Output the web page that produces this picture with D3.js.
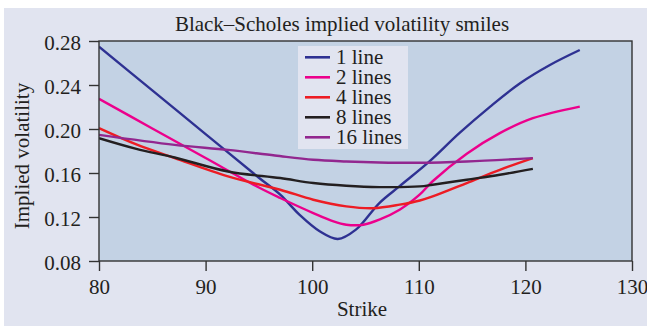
<!DOCTYPE html>
<html>
<head>
<meta charset="utf-8">
<script src="https://cdn.jsdelivr.net/npm/d3@7"></script>
<style>
  body { margin: 0; background: #fff; }
  svg text { font-family: "Liberation Serif", "DejaVu Serif", serif; fill: #231f20; }
</style>
</head>
<body>
<svg id="chart" width="647" height="326"></svg>
<script>
// series data
var seriesNames = ["1 line", "2 lines", "4 lines", "8 lines", "16 lines"];
var seriesColors = ["#2e3192", "#ec008c", "#ed1c24", "#231f20", "#92278f"];

var strike1 = [80, 85, 90, 95, 97, 98.8, 100.7, 102.4, 104.1, 106.3, 108.2, 111, 113.8, 116.7, 119.5, 122.3, 125.1];
var vol1 = [0.2748, 0.2351, 0.1954, 0.1557, 0.1403, 0.1221, 0.107, 0.100, 0.1085, 0.1327, 0.148, 0.1705, 0.1962, 0.2204, 0.2416, 0.2582, 0.2718];

var strike2 = [80, 85, 90, 95, 97, 100.1, 102, 103.2, 104.8, 106.3, 108.2, 110.1, 111.3, 114.5, 117.6, 120.7, 125.1];
var vol2 = [0.2274, 0.2005, 0.1736, 0.1468, 0.1373, 0.1236, 0.116, 0.113, 0.113, 0.1176, 0.1266, 0.1405, 0.1525, 0.1775, 0.1962, 0.2098, 0.2204];

var strike4 = [80, 83.5, 87.1, 92.1, 97, 100.1, 103.2, 105.7, 108.2, 110.1, 111.3, 114.5, 117.6, 120.7];
var vol4 = [0.2008, 0.186, 0.1736, 0.1569, 0.1448, 0.1357, 0.1297, 0.128, 0.1312, 0.135, 0.1387, 0.1509, 0.1629, 0.1735];

var strike8 = [80, 83.5, 87.1, 92.1, 97, 100.1, 103.2, 106.3, 110.1, 111.3, 114.5, 117.6, 120.7];
var vol8 = [0.1917, 0.182, 0.1741, 0.1614, 0.1554, 0.1509, 0.1484, 0.1472, 0.1478, 0.1493, 0.1539, 0.1584, 0.1638];

var strike16 = [80, 87.1, 92.1, 96.5, 100.1, 103.2, 106.3, 110.1, 114.5, 120.7];
var vol16 = [0.1947, 0.1856, 0.181, 0.1759, 0.172, 0.1705, 0.1696, 0.1693, 0.1705, 0.1735];

var xTicks = [80, 90, 100, 110, 120, 130];
var yTicks = [0.08, 0.12, 0.16, 0.20, 0.24, 0.28];

var allStrikes = [strike1, strike2, strike4, strike8, strike16];
var allVols = [vol1, vol2, vol4, vol8, vol16];

var svg = d3.select("#chart");
var width = 647, height = 326;
var fontSize = "21px";

// outer panel
svg.append("rect")
    .attr("x", 4).attr("y", 8)
    .attr("width", width - 4).attr("height", height - 8)
    .style("fill", "#e1e4f0");

var margin = {left: 99, right: 15, top: 41, bottom: 65};
var x = d3.scaleLinear().domain([80, 130]).range([margin.left, width - margin.right]);
var y = d3.scaleLinear().domain([0.08, 0.28]).range([height - margin.bottom, margin.top]);

// plot area
svg.append("rect")
    .attr("x", x(80)).attr("y", y(0.28))
    .attr("width", x(130) - x(80)).attr("height", y(0.08) - y(0.28))
    .style("fill", "#c3d2e4");

svg.append("defs").append("clipPath").attr("id", "clip")
    .append("rect")
    .attr("x", x(80)).attr("y", y(0.28))
    .attr("width", x(130) - x(80)).attr("height", y(0.08) - y(0.28));

var line = d3.line()
    .x(function (d) { return x(d[0]); })
    .y(function (d) { return y(d[1]); })
    .curve(d3.curveCatmullRom.alpha(0.5));

var lines = svg.append("g").attr("clip-path", "url(#clip)");
for (var i = 0; i < seriesNames.length; i++) {
    var pts = allStrikes[i].map(function (s, k) { return [s, allVols[i][k]]; });
    lines.append("path")
        .datum(pts)
        .attr("d", line)
        .style("fill", "none")
        .style("stroke", seriesColors[i])
        .style("stroke-width", 2.4);
}

// frame
svg.append("rect")
    .attr("x", x(80)).attr("y", y(0.28))
    .attr("width", x(130) - x(80)).attr("height", y(0.08) - y(0.28))
    .style("fill", "none")
    .style("stroke", "#333")
    .style("stroke-width", 1.4);

// axes
var xAxis = d3.axisBottom(x).tickValues(xTicks).tickSize(10).tickPadding(4)
    .tickFormat(d3.format("d"));
var gx = svg.append("g")
    .attr("transform", "translate(0," + y(0.08) + ")")
    .call(xAxis);
gx.select(".domain").remove();
gx.selectAll("line").style("stroke", "#333").style("stroke-width", 1.4);
gx.selectAll("text").style("font-size", fontSize).attr("y", 33).attr("dy", null);

var yAxis = d3.axisLeft(y).tickValues(yTicks).tickSize(10).tickPadding(8)
    .tickFormat(d3.format(".2f"));
var gy = svg.append("g")
    .attr("transform", "translate(" + x(80) + ",0)")
    .call(yAxis);
gy.select(".domain").remove();
gy.selectAll("line").style("stroke", "#333").style("stroke-width", 1.4);
gy.selectAll("text").style("font-size", fontSize).attr("dy", "0.4em");

// title and axis labels
svg.append("text")
    .attr("x", 342).attr("y", 31)
    .attr("text-anchor", "middle")
    .style("font-size", fontSize)
    .text("Black\u2013Scholes implied volatility smiles");

svg.append("text")
    .attr("x", 362).attr("y", 316)
    .attr("text-anchor", "middle")
    .style("font-size", fontSize)
    .text("Strike");

svg.append("text")
    .attr("transform", "translate(29,156) rotate(-90)")
    .attr("text-anchor", "middle")
    .style("font-size", fontSize)
    .text("Implied volatility");

// legend
var legend = svg.append("g");
legend.append("rect")
    .attr("x", 298).attr("y", 46)
    .attr("width", 110).attr("height", 103)
    .style("fill", "#e1e4f0");
for (var j = 0; j < seriesNames.length; j++) {
    var ly = 57.3 + j * 20;
    legend.append("line")
        .attr("x1", 305).attr("x2", 330)
        .attr("y1", ly).attr("y2", ly)
        .style("stroke", seriesColors[j])
        .style("stroke-width", 2.6);
    legend.append("text")
        .attr("x", 336).attr("y", ly + 6.7)
        .style("font-size", fontSize)
        .text(seriesNames[j]);
}
</script>
</body>
</html>
